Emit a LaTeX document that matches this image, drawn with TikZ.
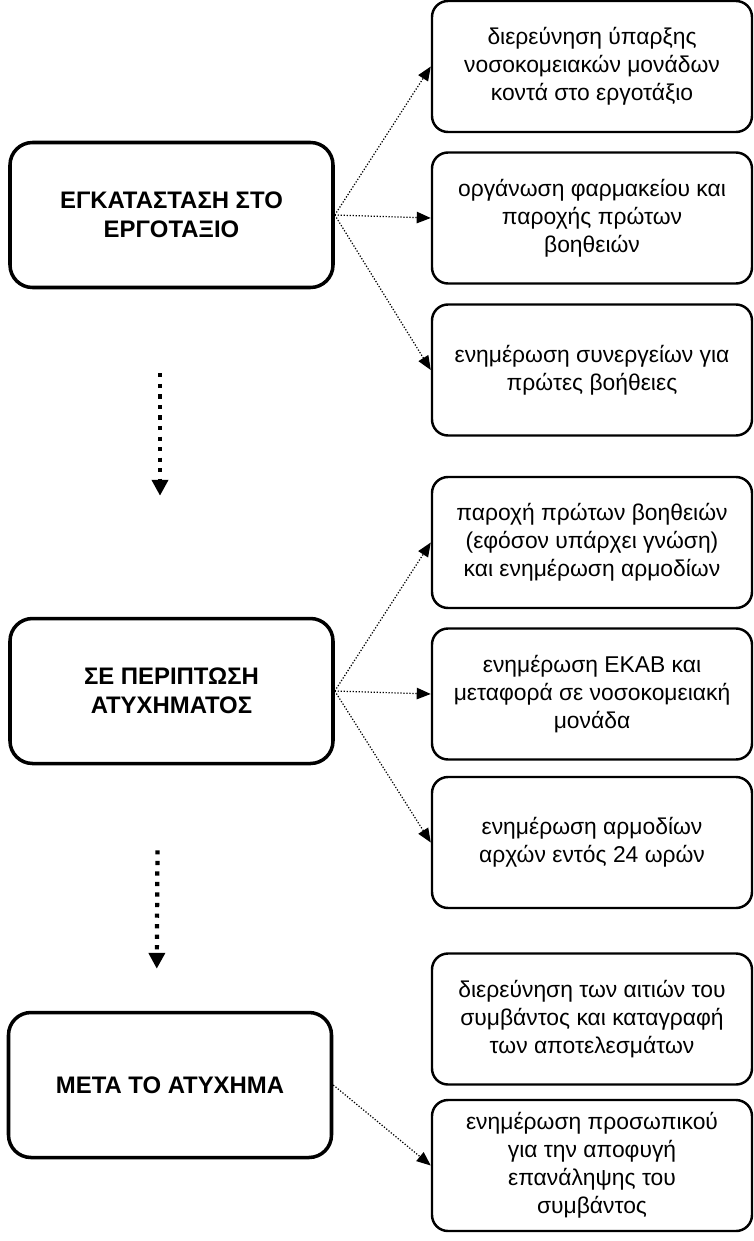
\documentclass[tikz,border=0pt]{standalone}
\usepackage{fontspec}
\setmainfont{Liberation Sans}
\usetikzlibrary{arrows.meta}

\tikzset{
  phase/.style={draw,line width=2pt,rounded corners=0.45cm,minimum width=6.46cm,minimum height=2.9cm,align=center,font=\fontsize{13.6}{16.5}\selectfont\bfseries},
  task/.style={draw,line width=1.4pt,rounded corners=0.32cm,minimum width=6.4cm,minimum height=2.62cm,align=center,font=\fontsize{13}{16}\selectfont},
  link/.style={densely dotted,line width=0.7pt,-{Triangle[length=8pt,width=6.5pt]}},
  seqarrow/.style={line width=2.4pt,dash pattern=on 2.4pt off 3.6pt,-{Triangle[length=9pt,width=9pt]}}
}

\begin{document}
\begin{tikzpicture}
        \useasboundingbox (0,0) rectangle (15.08,-24.82);
        %% phases
        \node[phase] (setup) at (3.43,-4.30) {ΕΓΚΑΤΑΣΤΑΣΗ ΣΤΟ\\ΕΡΓΟΤΑΞΙΟ};
        \node[phase] (accident) at (3.43,-13.82) {ΣΕ ΠΕΡΙΠΤΩΣΗ\\ΑΤΥΧΗΜΑΤΟΣ};
        \node[phase] (after) at (3.40,-21.70) {ΜΕΤΑ ΤΟ ΑΤΥΧΗΜΑ};
        %% tasks on setting up
        \node[task] (hosp) at (11.84,-1.33) {διερεύνηση ύπαρξης\\νοσοκομειακών μονάδων\\κοντά στο εργοτάξιο};
        \node[task] (kit) at (11.84,-4.36) {οργάνωση φαρμακείου και\\παροχής πρώτων\\βοηθειών};
        \node[task] (crew) at (11.84,-7.40) {ενημέρωση συνεργείων για\\πρώτες βοήθειες};
        %% tasks on an accident
        \node[task] (aid) at (11.84,-10.85) {παροχή πρώτων βοηθειών\\(εφόσον υπάρχει γνώση)\\και ενημέρωση αρμοδίων};
        \node[task] (ekab) at (11.84,-13.88) {ενημέρωση ΕΚΑΒ και\\μεταφορά σε νοσοκομειακή\\μονάδα};
        \node[task] (report) at (11.84,-16.85) {ενημέρωση αρμοδίων\\αρχών εντός 24 ωρών};
        %% tasks after the accident
        \node[task] (cause) at (11.84,-20.38) {διερεύνηση των αιτιών του\\συμβάντος και καταγραφή\\των αποτελεσμάτων};
        \node[task] (brief) at (11.84,-23.31) {ενημέρωση προσωπικού\\για την αποφυγή\\επανάληψης του\\συμβάντος};
        %% links
        \foreach \t in {hosp,kit,crew} \draw[link] (setup.east) -- (\t.west);
        \foreach \t in {aid,ekab,report} \draw[link] (accident.east) -- (\t.west);
        \draw[link] (after.east) -- (brief.west);
        %% sequence
        \draw[seqarrow,shorten <=1.68cm,shorten >=2.42cm] ([xshift=-0.23cm]setup.south) -- ([xshift=-0.23cm]accident.north);
        \draw[seqarrow,shorten <=1.7cm,shorten >=0.84cm] ([xshift=-0.27cm]accident.south) -- ([xshift=-0.27cm]after.north);
    \end{tikzpicture}
\end{document}
